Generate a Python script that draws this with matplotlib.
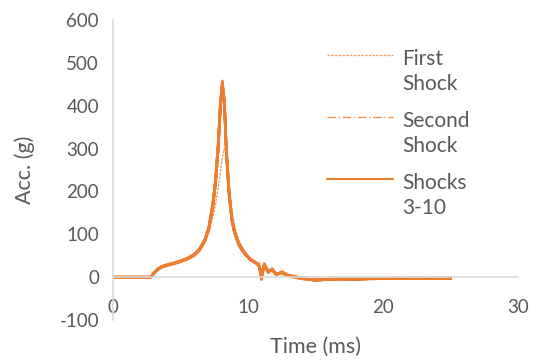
import matplotlib
matplotlib.use("Agg")
import matplotlib.pyplot as plt
from matplotlib.lines import Line2D

# time axis (ms), shared by all shocks
time_ms = [0, 2.8, 3.0, 3.3, 3.6, 4.0, 4.5, 5.0, 5.5, 6.0, 6.4, 6.8, 7.1, 7.4, 7.6,
           7.8, 7.95, 8.1, 8.25, 8.4, 8.6, 8.8, 9.0, 9.3, 9.6, 9.9, 10.2, 10.5, 10.8,
           11.0, 11.2, 11.5, 11.8, 12.1, 12.5, 13.0, 14.0, 15.0, 16.5, 18.0, 19.5,
           21.0, 22.5, 24.0, 25.0]

first_shock = [0, 0, 6, 16, 25, 30, 35, 40, 46, 55, 65, 82, 105, 140, 170, 210, 245, 280,
               300, 285, 220, 160, 120, 88, 68, 54, 44, 36, 30, 18, 25, 15, 14, 8, 10, 3,
               -3, -6, -4, -4, -3, -3, -2, -3, -2]
second_shock = [0, 0, 7, 17, 24, 29, 33, 38, 44, 53, 65, 86, 113, 162, 210, 285, 370, 425,
                405, 300, 205, 142, 110, 82, 65, 52, 42, 36, 30, 12, 28, 14, 16, 8, 10, 3,
                -3, -6, -4, -5, -3, -3, -2, -3, -2]
shocks_3_10 = [
    [0, 0, 8, 18, 24, 28, 32, 37, 43, 52, 64, 86, 115, 170, 225, 310, 400, 458, 410, 290,
     195, 135, 105, 78, 62, 50, 40, 35, 28, 5, 30, 12, 18, 6, 12, 4, -3, -7, -4, -5, -3,
     -3, -2, -3, -2],
    [0, 0, 7, 17, 23, 27, 31, 36, 42, 50, 62, 84, 112, 165, 220, 300, 395, 452, 415, 300,
     200, 138, 107, 80, 63, 51, 41, 34, 30, -2, 28, 14, 16, 8, 10, 3, -4, -6, -5, -4, -4,
     -2, -3, -2, -3],
    [0, 0, 9, 19, 25, 29, 33, 38, 44, 53, 66, 88, 118, 175, 232, 318, 408, 455, 400, 282,
     190, 132, 103, 76, 60, 49, 39, 36, 26, 8, 32, 10, 20, 4, 13, 5, -2, -8, -3, -6, -2,
     -4, -2, -3, -2],
    [0, 0, 8, 18, 24, 28, 32, 37, 43, 51, 63, 85, 114, 168, 228, 312, 402, 450, 405, 288,
     193, 134, 104, 77, 61, 50, 40, 35, 29, -6, 27, 12, 17, 7, 11, 4, -3, -7, -4, -5, -3,
     -3, -3, -2, -3],
    [0, 0, 7, 18, 24, 28, 32, 36, 42, 51, 63, 85, 113, 168, 222, 305, 398, 446, 412, 295,
     198, 136, 106, 79, 62, 50, 41, 34, 31, 2, 29, 15, 15, 9, 9, 2, -4, -6, -5, -4, -3,
     -3, -2, -3, -2],
    [0, 0, 8, 17, 23, 27, 31, 36, 42, 50, 62, 83, 111, 163, 218, 300, 390, 440, 408, 298,
     201, 139, 108, 81, 64, 52, 42, 36, 27, 10, 26, 13, 19, 5, 12, 4, -3, -7, -4, -5, -4,
     -2, -3, -2, -3],
    [0, 0, 9, 19, 25, 29, 33, 38, 44, 52, 65, 87, 117, 172, 230, 315, 405, 452, 403, 286,
     192, 133, 104, 77, 61, 49, 39, 35, 30, -4, 31, 11, 18, 6, 11, 3, -2, -8, -4, -5, -3,
     -3, -2, -3, -2],
    [0, 0, 8, 18, 24, 28, 32, 37, 43, 52, 64, 86, 116, 170, 226, 308, 398, 445, 410, 293,
     196, 135, 105, 78, 62, 50, 40, 34, 28, 3, 29, 13, 17, 7, 12, 4, -3, -7, -5, -4, -3,
     -3, -3, -2, -3],
]
legend_labels = ["First\nShock", "Second\nShock", "Shocks\n3-10"]

orange = "#ED7D31"
grey_text = "#595959"
axis_grey = "#D9D9D9"
plt.rcParams['font.family'] = ['Lato', 'DejaVu Sans']
plt.rcParams['axes.unicode_minus'] = False

W, H = 542, 363
fig = plt.figure(figsize=(W / 100, H / 100), dpi=100)
ax = fig.add_axes([113 / W, 1 - 320 / H, (518 - 113) / W, 300 / H])

for s in shocks_3_10:
    ax.plot(time_ms, s, color=orange, lw=1.8, solid_joinstyle='round')
ax.plot(time_ms, second_shock, color=orange, lw=1.0, ls=(0, (6, 2, 1, 2)), alpha=0.85)
ax.plot(time_ms, first_shock, color=orange, lw=0.9, ls=(0, (2, 1)), alpha=0.8)

ax.set_xlim(0, 30)
ax.set_ylim(-100, 600)
ax.set_xticks([0, 10, 20, 30])
ax.set_yticks(range(-100, 601, 100))

for side in ['top', 'right']:
    ax.spines[side].set_visible(False)
ax.spines['bottom'].set_position(('data', 0))
ax.spines['bottom'].set_color(axis_grey)
ax.spines['left'].set_color(axis_grey)
ax.spines['left'].set_linewidth(1.2)
ax.spines['bottom'].set_linewidth(1.2)
ax.tick_params(axis='x', length=0, pad=16, labelsize=13.5, labelcolor=grey_text)
ax.tick_params(axis='y', length=0, pad=10, labelsize=13.5, labelcolor=grey_text)

ax.set_xlabel("Time (ms)", fontsize=15.5, color=grey_text)
ax.xaxis.set_label_coords(0.5, -0.055)
ax.set_ylabel("Acc. (g)", fontsize=15.5, color=grey_text)
ax.yaxis.set_label_coords(-0.193, 0.5)

# legend drawn by hand to mimic the wrapped labels
styles = [dict(lw=0.9, ls=(0, (2, 1)), alpha=0.8),
          dict(lw=1.0, ls=(0, (6, 2, 1, 2)), alpha=0.85),
          dict(lw=1.5, ls='-')]
rows = [55, 117, 179]
for lab, st, y in zip(legend_labels, styles, rows):
    fig.add_artist(Line2D([327 / W, 393 / W], [1 - y / H, 1 - y / H],
                          color=orange, transform=fig.transFigure, **st))
    fig.text(402 / W, 1 - (y - 6) / H, lab, fontsize=15, color=grey_text,
             va='top', ha='left', linespacing=1.3)

fig.savefig("out.png", dpi=100)
